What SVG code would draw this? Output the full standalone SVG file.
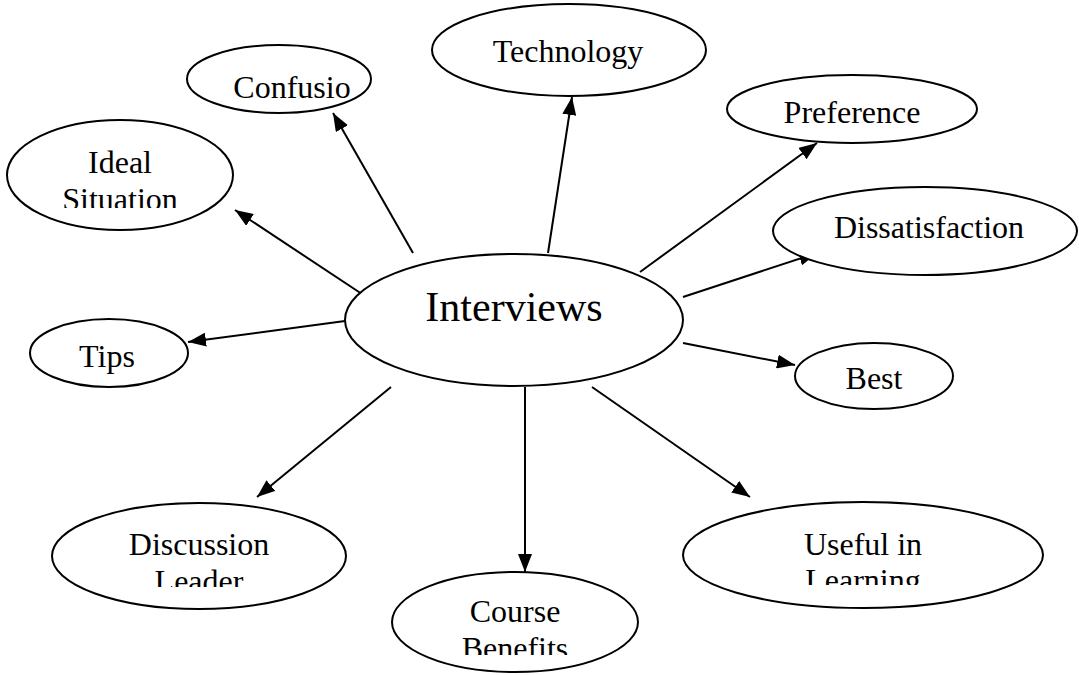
<svg xmlns="http://www.w3.org/2000/svg" width="1079" height="675" viewBox="0 0 1079 675">
<style>
.n{fill:#fff;stroke:#000;stroke-width:2}
.t{font-family:"Liberation Serif","Times New Roman",serif;font-size:32px;fill:#000;text-anchor:middle}
.c{stroke:#000;stroke-width:2;fill:none;marker-end:url(#ah)}
</style>
<defs>
<marker id="ah" markerUnits="userSpaceOnUse" markerWidth="18" markerHeight="14" refX="18" refY="7" orient="auto">
<path d="M0,0 L18,7 L0,14 z" fill="#000"/>
</marker>
<clipPath id="clipIdeal"><rect x="0" y="120" width="240" height="88"/></clipPath>
<clipPath id="clipDisc"><rect x="40" y="500" width="320" height="87"/></clipPath>
<clipPath id="clipUse"><rect x="680" y="500" width="370" height="85"/></clipPath>
<clipPath id="clipCourse"><rect x="390" y="560" width="250" height="95"/></clipPath>
</defs>
<rect width="1079" height="675" fill="#fff"/>
<g id="connectors">
<line class="c" x1="413" y1="253" x2="333" y2="113"/>
<line class="c" x1="548" y1="253" x2="572" y2="97"/>
<line class="c" x1="640" y1="272" x2="817" y2="143"/>
<line class="c" x1="683" y1="297" x2="817" y2="253"/>
<line class="c" x1="683" y1="343" x2="795" y2="365"/>
<line class="c" x1="592" y1="387" x2="750" y2="497"/>
<line class="c" x1="525" y1="387" x2="525" y2="572"/>
<line class="c" x1="391" y1="387" x2="257" y2="497"/>
<line class="c" x1="345" y1="321" x2="188" y2="342"/>
<line class="c" x1="368" y1="298" x2="235" y2="210"/>
</g>
<g id="interviews">
<ellipse class="n" cx="514" cy="320" rx="169" ry="66"/>
<text class="t" x="514" y="321" style="font-size:42px">Interviews</text>
</g>
<g id="confusio">
<ellipse class="n" cx="279" cy="79" rx="92" ry="34"/>
<text class="t" x="292" y="98">Confusio</text>
</g>
<g id="technology">
<ellipse class="n" cx="569" cy="50" rx="137" ry="46"/>
<text class="t" x="568" y="62">Technology</text>
</g>
<g id="preference">
<ellipse class="n" cx="852" cy="109" rx="125" ry="34"/>
<text class="t" x="852" y="123">Preference</text>
</g>
<g id="dissatisfaction">
<ellipse class="n" cx="925" cy="231" rx="152" ry="44"/>
<text class="t" x="929" y="238">Dissatisfaction</text>
</g>
<g id="ideal-situation">
<ellipse class="n" cx="120" cy="175" rx="113" ry="55"/>
<g clip-path="url(#clipIdeal)">
<text class="t" x="120" y="173">Ideal</text>
<text class="t" x="120" y="210">Situation</text>
</g>
</g>
<g id="tips">
<ellipse class="n" cx="109" cy="353" rx="79" ry="34"/>
<text class="t" x="107" y="367">Tips</text>
</g>
<g id="best">
<ellipse class="n" cx="874" cy="376" rx="79" ry="33"/>
<text class="t" x="874" y="389">Best</text>
</g>
<g id="discussion-leader">
<ellipse class="n" cx="199" cy="556" rx="147" ry="53"/>
<g clip-path="url(#clipDisc)">
<text class="t" x="199" y="555">Discussion</text>
<text class="t" x="199" y="592">Leader</text>
</g>
</g>
<g id="useful-in-learning">
<ellipse class="n" cx="863" cy="555" rx="180" ry="53"/>
<g clip-path="url(#clipUse)">
<text class="t" x="863" y="555">Useful in</text>
<text class="t" x="863" y="591">Learning</text>
</g>
</g>
<g id="course-benefits">
<ellipse class="n" cx="515" cy="622" rx="123" ry="50"/>
<g clip-path="url(#clipCourse)">
<text class="t" x="515" y="622">Course</text>
<text class="t" x="515" y="659">Benefits</text>
</g>
</g>
</svg>
